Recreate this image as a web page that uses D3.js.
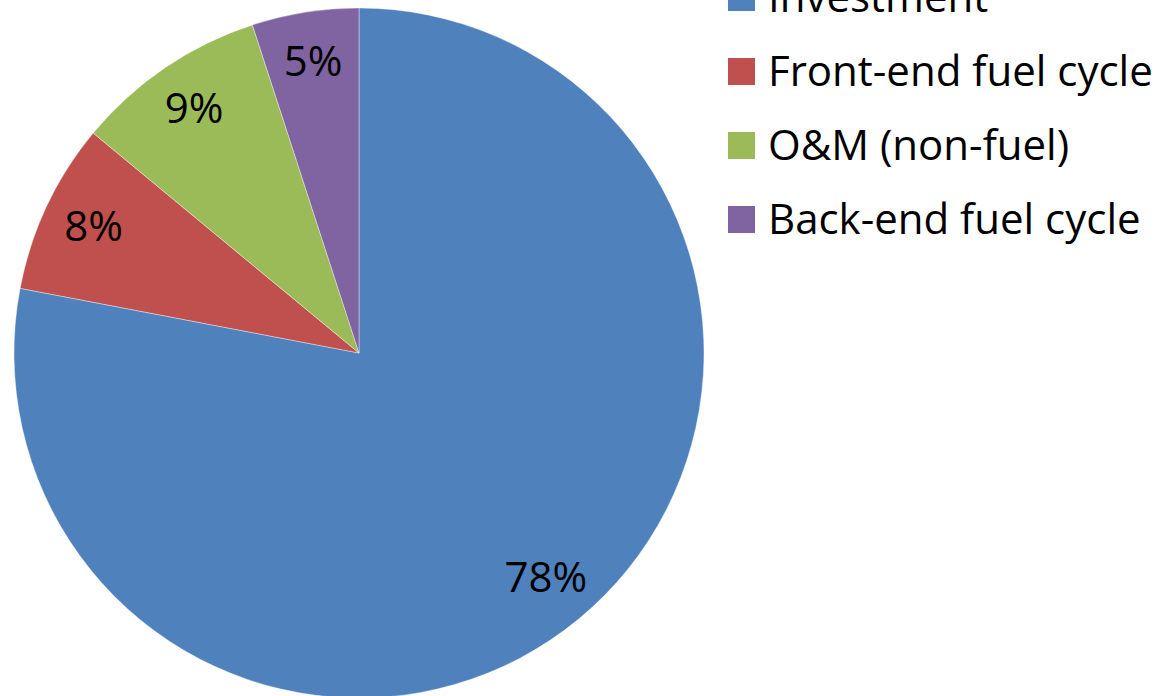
<!DOCTYPE html>
<html>
<head>
<meta charset="utf-8">
<script src="https://cdn.jsdelivr.net/npm/d3@7"></script>
<style>
  html, body { margin: 0; padding: 0; background: #fff; }
  svg { display: block; }
  text { font-family: "Open Sans", "DejaVu Sans", sans-serif; fill: #000; }
</style>
</head>
<body>
<svg id="chart" width="1159" height="696"></svg>
<script>
// Cost breakdown (share of total, %)
const categories = ["Investment", "Front-end fuel cycle", "O&M (non-fuel)", "Back-end fuel cycle"];
const shares = [78, 8, 9, 5];
const colors = ["#4F81BD", "#C0504D", "#9BBB59", "#8064A2"];

const svg = d3.select("#chart");
const cx = 359, cy = 353, radius = 345;

const data = categories.map((c, i) => ({ name: c, value: shares[i], color: colors[i] }));

const pie = d3.pie().value(d => d.value).sort(null);
const arcs = pie(data);

const arc = d3.arc().innerRadius(0).outerRadius(radius);
const labelArc = d3.arc().innerRadius(radius * 0.85).outerRadius(radius * 0.85);

const g = svg.append("g").attr("transform", `translate(${cx},${cy})`);

g.selectAll("path.slice")
  .data(arcs)
  .join("path")
  .attr("class", "slice")
  .attr("d", arc)
  .attr("fill", d => d.data.color)
  .attr("stroke", "#ffffff")
  .attr("stroke-opacity", 0.5)
  .attr("stroke-width", 0.75);

const fmt = d3.format(".0%");
g.selectAll("text.pct")
  .data(arcs)
  .join("text")
  .attr("class", "pct")
  .attr("transform", d => `translate(${labelArc.centroid(d)})`)
  .attr("text-anchor", "middle")
  .attr("dy", "0.3em")
  .style("font-size", "42px")
  .text(d => fmt(d.data.value / 100));

// Legend
const legend = svg.append("g").attr("transform", "translate(728,-16)");
const items = legend.selectAll("g.item")
  .data(data)
  .join("g")
  .attr("class", "item")
  .attr("transform", (d, i) => `translate(0,${i * 74})`);

items.append("rect")
  .attr("width", 27)
  .attr("height", 27)
  .attr("fill", d => d.color);

items.append("text")
  .attr("x", 40)
  .attr("y", 28)
  .style("font-size", "42px")
  .text(d => d.name);
</script>
</body>
</html>
